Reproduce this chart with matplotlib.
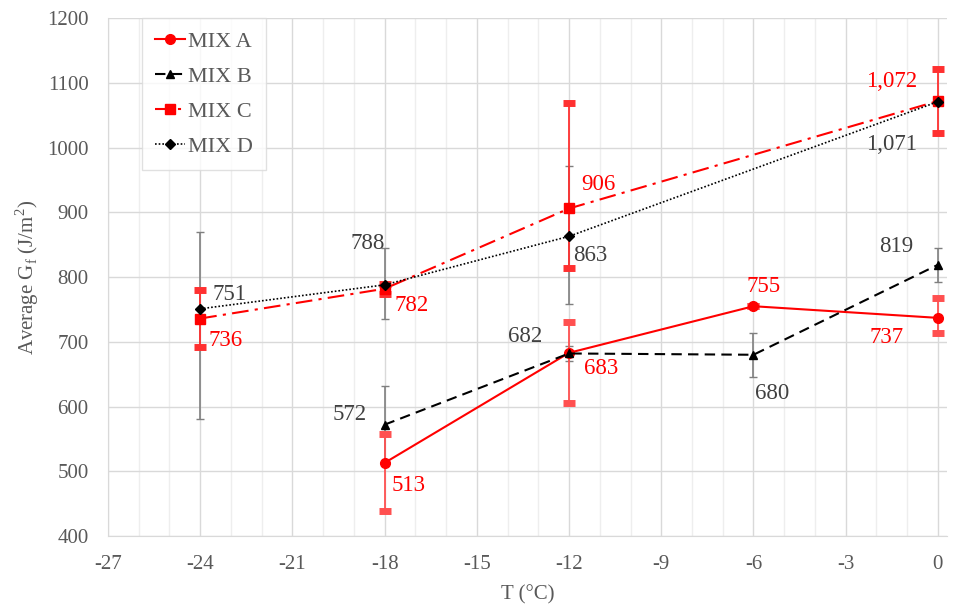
import numpy as np
import matplotlib.pyplot as plt
from matplotlib.ticker import MultipleLocator

plt.rcParams['font.family'] = ['Liberation Serif', 'DejaVu Serif']
plt.rcParams['mathtext.fontset'] = 'custom'
plt.rcParams['mathtext.rm'] = 'Liberation Serif'
plt.rcParams['axes.unicode_minus'] = False

# temperatures (°C) and average fracture energy (J/m2) per mix
t_a = [-18, -12, -6, 0]
gf_a = [513, 683, 755, 737]
err_a_lo = [75, 78, 0, 24]
err_a_hi = [45, 47, 0, 31]

t_b = [-18, -12, -6, 0]
gf_b = [572, 682, 680, 819]
err_b = [60, 12, 34, 26]

t_c = [-24, -18, -12, 0]
gf_c = [736, 782, 906, 1072]
err_c_lo = [44, 8, 92, 50]
err_c_hi = [44, 8, 163, 50]

t_d = [-24, -18, -12, 0]
gf_d = [751, 788, 863, 1071]
err_d_lo = [170, 53, 105, 0]
err_d_hi = [119, 57, 108, 0]

labels_a = ['513', '683', '755', '737']
labels_b = ['572', '682', '680', '819']
labels_c = ['736', '782', '906', '1,072']
labels_d = ['751', '788', '863', '1,071']

RED = '#ff0000'
DARK = '#404040'
GREY = '#7f7f7f'

fig = plt.figure(figsize=(9.59, 6.07), dpi=100)
ax = fig.add_axes([0.1126, 0.117, 0.875, 0.853])

# error bars first so the lines sit on top
ax.errorbar(t_d, gf_d, yerr=[err_d_lo, err_d_hi], fmt='none', ecolor=GREY,
            elinewidth=1.2, capsize=3, capthick=1, zorder=2)
ax.errorbar(t_b, gf_b, yerr=err_b, fmt='none', ecolor=GREY,
            elinewidth=1.2, capsize=3, capthick=1, zorder=2)
ax.errorbar(t_a, gf_a, yerr=[err_a_lo, err_a_hi], fmt='none', ecolor='#ff5050',
            elinewidth=1.3, capsize=4.5, capthick=5, zorder=2)
ax.errorbar(t_c, gf_c, yerr=[err_c_lo, err_c_hi], fmt='none', ecolor='#ff3030',
            elinewidth=1.3, capsize=4.5, capthick=5, zorder=2)

ax.plot(t_a, gf_a, color=RED, lw=1.5, marker='o', ms=7, label='MIX A', zorder=4)
ax.plot(t_b, gf_b, color='black', lw=1.5, ls=(0, (5, 3)), marker='^', ms=6,
        label='MIX B', zorder=4)
ax.plot(t_c, gf_c, color=RED, lw=1.5, ls=(0, (8, 3, 1.5, 3)), marker='s', ms=7,
        label='MIX C', zorder=3)
ax.plot(t_d, gf_d, color='black', lw=1.2, ls=(0, (1, 1.2)), marker='D', ms=5,
        label='MIX D', zorder=5)

# data labels: (offset x in points, offset y in points, horizontal alignment)
pos_a = [(5, -16, 'left'), (11, -11, 'left'), (7, 14, 'center'), (-25, -14, 'right')]
pos_b = [(-13, 7, 'right'), (-19, 12, 'right'), (1, -28, 'left'), (-18, 13, 'right')]
pos_c = [(6, -16, 'left'), (7, -12, 'left'), (9, 17, 'left'), (-15, 14, 'right')]
pos_d = [(9, 10, 'left'), (0, 30, 'right'), (3, -14, 'left'), (-15, -31, 'right')]

for xs, ys, labs, pos, col in [(t_a, gf_a, labels_a, pos_a, RED),
                                (t_b, gf_b, labels_b, pos_b, DARK),
                                (t_c, gf_c, labels_c, pos_c, RED),
                                (t_d, gf_d, labels_d, pos_d, DARK)]:
    for x, y, s, (dx, dy, ha) in zip(xs, ys, labs, pos):
        ax.annotate(s, (x, y), xytext=(dx, dy), textcoords='offset points',
                    ha=ha, va='center', fontsize=16.5, color=col, zorder=6)

ax.set_xlim(-27, 0.3)
ax.set_ylim(400, 1200)
ax.xaxis.set_major_locator(MultipleLocator(3))
ax.xaxis.set_minor_locator(MultipleLocator(1))
ax.yaxis.set_major_locator(MultipleLocator(100))
ax.grid(which='major', color='#d9d9d9', lw=1)
ax.grid(which='minor', axis='x', color='#eeeeee', lw=1)
ax.set_axisbelow(True)

for side in ['top', 'right']:
    ax.spines[side].set_visible(False)
for side in ['left', 'bottom']:
    ax.spines[side].set_color('#d9d9d9')
ax.tick_params(which='both', length=0, labelsize=15, colors='#595959')
ax.tick_params(axis='x', pad=14)
ax.tick_params(axis='y', pad=14)

ax.set_xlabel('T (°C)', fontsize=15, color='#595959', labelpad=8)
ax.set_ylabel('Average G$_\\mathrm{f}$ (J/m$^2$)', fontsize=15, color='#595959',
              labelpad=4)

leg = ax.legend(loc='upper left', bbox_to_anchor=(0.04, 1.0), fontsize=16,
                frameon=True, fancybox=False, edgecolor='#d9d9d9',
                handlelength=1.35, handletextpad=0.15, borderpad=0.6,
                labelspacing=0.65, borderaxespad=0)
for txt in leg.get_texts():
    txt.set_color('#595959')

fig.savefig('out.png', dpi=100)
